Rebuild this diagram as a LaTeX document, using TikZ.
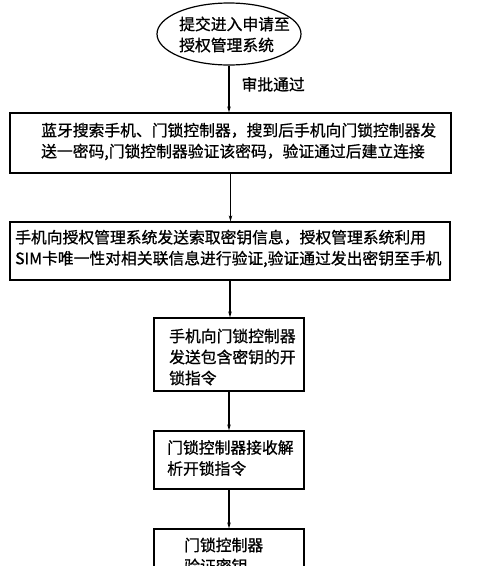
\documentclass[tikz,border=0pt]{standalone}
\usepackage{fontspec}
\setmainfont{Noto Sans CJK SC}[FakeBold=0.8]
\usetikzlibrary{arrows.meta,shapes.geometric}
\begin{document}
\begin{tikzpicture}[x=1pt,y=-1pt,
  box/.style={draw,line width=1.2pt,inner sep=0pt},
  txt/.style={font=\fontsize{15.8}{21}\selectfont,align=left,inner sep=0pt,anchor=west},
  arr/.style={-{Stealth[length=6pt,width=3.5pt]},line width=1.1pt}]
\useasboundingbox (0,0) rectangle (500,566);
\clip (0,0) rectangle (500,566);
% start ellipse
\node[ellipse,draw,line width=1.2pt,minimum width=144pt,minimum height=62pt,inner sep=0pt] (e) at (229,34) {};
\node[txt] (et) at (179,34.5) {提交进入申请至\\授权管理系统};
% boxes
\node[box,minimum width=441pt,minimum height=60pt] (b1) at (230.5,143) {};
\node[txt] (t1) at (41,141.5) {蓝牙搜索手机、门锁控制器，搜到后手机向门锁控制器发\\送一密码,门锁控制器验证该密码，验证通过后建立连接};
\node[box,minimum width=440pt,minimum height=58pt] (b2) at (230,251) {};
\node[txt] (t2) at (15,248.5) {手机向授权管理系统发送索取密钥信息，授权管理系统利用\\SIM卡唯一性对相关联信息进行验证,验证通过发出密钥至手机};
\node[box,minimum width=150pt,minimum height=73pt] (b3) at (229,354.5) {};
\node[txt] (t3) at (169,357) {手机向门锁控制器\\发送包含密钥的开\\锁指令};
\node[box,minimum width=150pt,minimum height=58pt] (b4) at (229,460) {};
\node[txt] (t4) at (167,458) {门锁控制器接收解\\析开锁指令};
\node[box,minimum width=150pt,minimum height=58pt] (b5) at (229,558) {};
\node[txt] (t5) at (184,555.5) {门锁控制器\\验证密钥};
% connectors
\draw[arr] (e.south) -- (e.south |- b1.north) node[txt,pos=0.4,anchor=west,xshift=12pt] (lab) {审批通过};
\draw[arr] (b1.south) -- (b1.south |- b2.north);
\draw[arr] (b2.south) -- (b2.south |- b3.north);
\draw[arr] (b3.south) -- (b3.south |- b4.north);
\draw[arr] (b4.south) -- (b4.south |- b5.north);
\end{tikzpicture}
\end{document}
